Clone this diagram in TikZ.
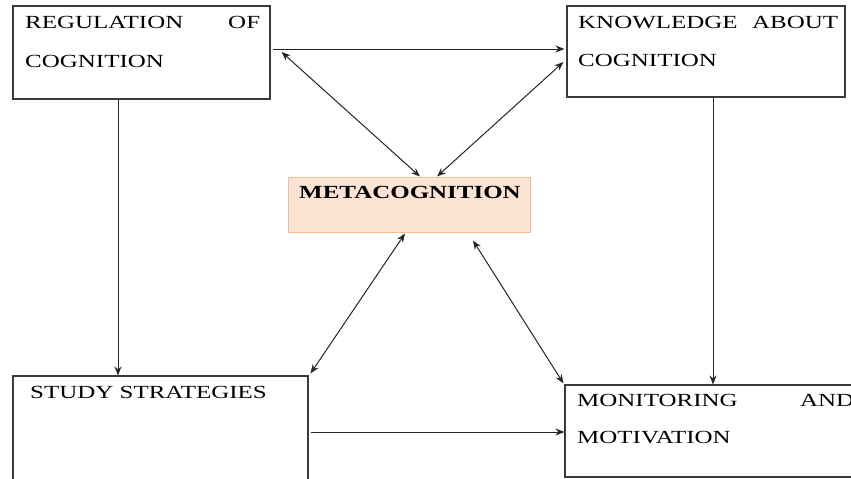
\documentclass[tikz,border=0pt]{standalone}
\usepackage{fontspec}
\setmainfont[FakeStretch=1.35]{Liberation Serif}
\usetikzlibrary{arrows.meta,calc}
\definecolor{boxline}{HTML}{3A3A3A}
\definecolor{peach}{HTML}{FCE4D4}
\definecolor{peachline}{HTML}{F2BE9A}
\tikzset{
  box/.style={draw=boxline,line width=1.1pt,fill=white,rectangle,inner sep=0pt},
  lbl/.style={inner sep=0pt,anchor=base west,font=\fontsize{18.5}{22}\selectfont,text=black},
  conn/.style={draw=black!85,line width=1pt,-{Stealth[length=9pt,width=7pt]}},
  bconn/.style={draw=black!85,line width=1pt,{Stealth[length=9pt,width=7pt]}-{Stealth[length=9pt,width=7pt]}}
}
\begin{document}
\begin{tikzpicture}[x=1pt,y=-1pt]
\useasboundingbox (0,0) rectangle (851,479);
\clip (0,0) rectangle (851,479);
\fill[white] (0,0) rectangle (851,479);
% boxes
\node[box,minimum width=257pt,minimum height=93pt] (rc) at (141.5,52.5) {};
\node[box,minimum width=278pt,minimum height=91pt] (kc) at (706,51.5) {};
\node[rectangle,fill=peach,draw=peachline,line width=1pt,minimum width=242pt,minimum height=55pt,inner sep=0pt] (meta) at (409,204.5) {};
\node[box,minimum width=295pt,minimum height=124pt] (ss) at (160.5,438) {};
\node[box,minimum width=315pt,minimum height=92pt] (mm) at (722.5,431) {};
% texts
\node[lbl] (t1) at (25,28) {\makebox[235pt][s]{REGULATION\hfill OF}};
\node[lbl] (t2) at (25,67) {COGNITION};
\node[lbl] (t3) at (578,28) {\makebox[260pt][s]{KNOWLEDGE\hfill ABOUT}};
\node[lbl] (t4) at (578,66) {COGNITION};
\node[lbl,anchor=base,font=\fontsize{18.5}{22}\selectfont\bfseries] (t5) at (410,198) {METACOGNITION};
\node[lbl] (t6) at (30,398) {STUDY STRATEGIES};
\node[lbl] (t7) at (577,406) {\makebox[277pt][s]{MONITORING\hfill AND}};
\node[lbl] (t8) at (577,443) {MOTIVATION};
% connector end points on the boxes
\coordinate (rcE) at ([xshift=2pt,yshift=3.5pt]rc.east);
\coordinate (kcW) at ([xshift=-2pt,yshift=2.5pt]kc.west);
\coordinate (rcD) at ([xshift=11pt,yshift=0.5pt]rc.east);
\coordinate (kcD) at ([xshift=-3pt,yshift=-10.5pt]kc.west);
\coordinate (mTL) at ([xshift=11pt,yshift=0pt]meta.north);
\coordinate (mTR) at ([xshift=28pt,yshift=0pt]meta.north);
\coordinate (mBL) at ([xshift=-4pt,yshift=-1pt]meta.south);
\coordinate (mBR) at ([xshift=64pt,yshift=-8pt]meta.south);
\coordinate (rcS) at (rc.south -| 118,0);
\coordinate (ssN) at (ss.north -| 118,0);
\coordinate (kcS) at (kc.south -| 713,0);
\coordinate (mmN) at (mm.north -| 713,0);
\coordinate (ssNE) at ([xshift=2pt,yshift=2pt]ss.north east);
\coordinate (mmNW) at ([xshift=-1pt,yshift=1pt]mm.north west);
\coordinate (ssE) at ([xshift=2pt]ss.east |- 0,432);
\coordinate (mmW) at (mm.west |- 0,432);
% connectors
\draw[conn] (rcE) -- (kcW);
\draw[bconn] (rcD) -- (mTL);
\draw[bconn] (kcD) -- (mTR);
\draw[conn] (rcS) -- (ssN);
\draw[conn] (kcS) -- (mmN);
\draw[bconn] (mBL) -- (ssNE);
\draw[bconn] (mBR) -- (mmNW);
\draw[conn] (ssE) -- (mmW);
\end{tikzpicture}
\end{document}
